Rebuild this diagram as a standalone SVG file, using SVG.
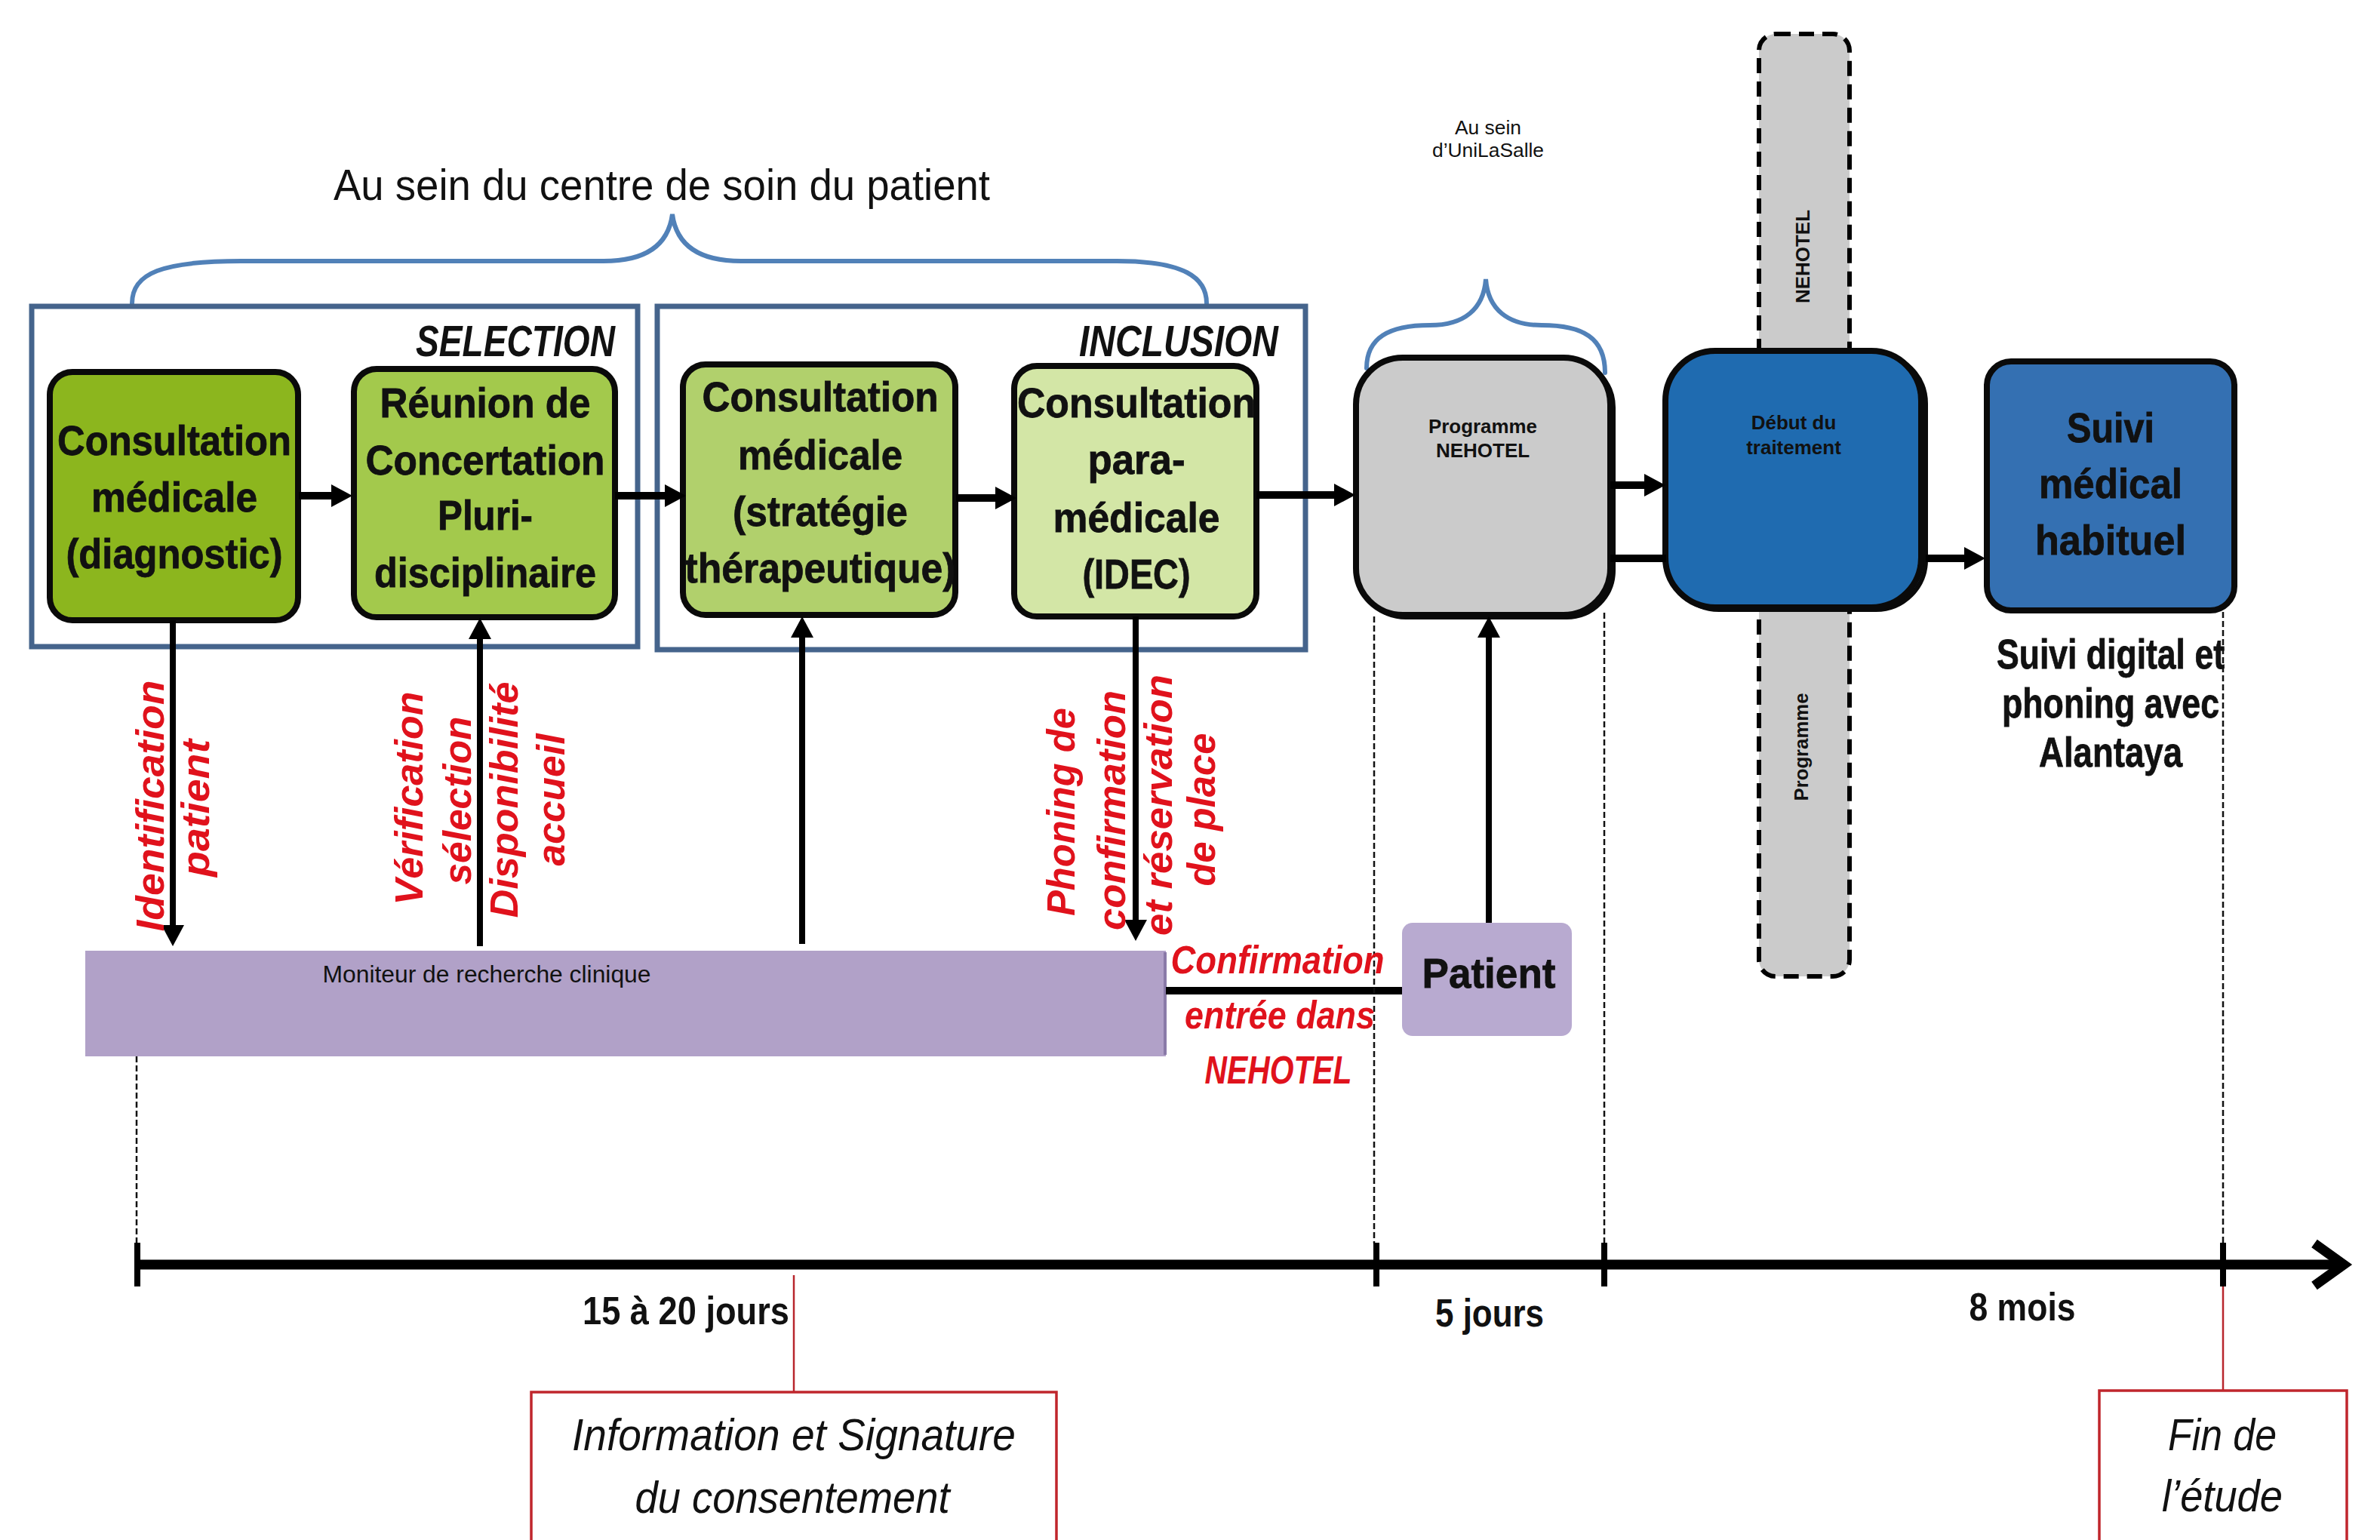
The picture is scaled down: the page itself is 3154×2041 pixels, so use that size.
<svg xmlns="http://www.w3.org/2000/svg" width="3154" height="2041" viewBox="0 0 3154 2041">
<style>
text{font-family:"Liberation Sans",Arial,sans-serif}
.node{stroke:#0a0a0a;stroke-width:8}
.nt{font-weight:bold;font-size:56px;fill:#111;text-anchor:middle;stroke:#111;stroke-width:0.8}
.grp{fill:none;stroke:#45648c;stroke-width:7}
.brace{fill:none;stroke:#5181b8;stroke-width:6;stroke-linecap:round}
.hd{font-weight:bold;font-style:italic;font-size:58px;fill:#111;text-anchor:end}
.red{font-weight:bold;font-style:italic;font-size:52px;fill:#e0121c;text-anchor:middle}
.conn{stroke:#000;stroke-width:10;fill:none}
.vconn{stroke:#000;stroke-width:8;fill:none}
.dash{stroke:#111;stroke-width:2.5;stroke-dasharray:8 4;fill:none}
.small{font-size:26px;fill:#111;text-anchor:middle}
.b{font-weight:bold}
.tl{stroke:#000;stroke-width:13;fill:none}
.tick{stroke:#000;stroke-width:8}
.lbl{font-weight:bold;font-size:52px;fill:#111;text-anchor:middle}
.rbox{fill:#fff;stroke:#c0262c;stroke-width:3.5}
.rline{stroke:#b8262c;stroke-width:2.5}
.it{font-style:italic;font-size:60px;fill:#111;text-anchor:middle}
</style>
<defs>
<marker id="ah" viewBox="0 0 28 30" markerWidth="28" markerHeight="30" refX="1" refY="15" markerUnits="userSpaceOnUse" orient="auto">
<path d="M0,0 L28,15 L0,30 z" fill="#000"/>
</marker>
</defs>
<rect width="3154" height="2041" fill="#fff"/>

<g id="header">
<text x="877" y="265" font-size="58" fill="#111" text-anchor="middle" textLength="870" lengthAdjust="spacingAndGlyphs">Au sein du centre de soin du patient</text>
<path class="brace" d="M175,402 C175,362 215,346 320,346 L800,346 C860,346 886,322 891,284 C896,322 922,346 982,346 L1480,346 C1570,346 1599,368 1599,402"/>
<text class="small" x="1972" y="178" textLength="88" lengthAdjust="spacingAndGlyphs">Au sein</text>
<text class="small" x="1972" y="208" textLength="148" lengthAdjust="spacingAndGlyphs">d’UniLaSalle</text>
<path class="brace" d="M1811,488 C1811,448 1840,431 1895,431 C1940,431 1966,410 1969,370 C1972,410 1998,431 2043,431 C2098,431 2127,448 2127,494"/>
</g>

<g id="selection">
<rect class="grp" x="42" y="406" width="803" height="451"/>
<text class="hd" x="815" y="472" textLength="264" lengthAdjust="spacingAndGlyphs">SELECTION</text>
</g>
<g id="inclusion">
<rect class="grp" x="871" y="406" width="859" height="455"/>
<text class="hd" x="1694" y="472" textLength="264" lengthAdjust="spacingAndGlyphs">INCLUSION</text>
</g>

<g id="nehotel-band">
<rect x="2331" y="45" width="120" height="1249" rx="22" fill="#cbcbcb" stroke="#000" stroke-width="6" stroke-dasharray="20 11"/>
<text class="b" x="2398" y="340" font-size="26" fill="#111" text-anchor="middle" transform="rotate(-90 2398 340)" textLength="124" lengthAdjust="spacingAndGlyphs">NEHOTEL</text>
<text class="b" x="2396" y="990" font-size="26" fill="#111" text-anchor="middle" transform="rotate(-90 2396 990)" textLength="143" lengthAdjust="spacingAndGlyphs">Programme</text>
</g>

<g id="n1">
<rect class="node" x="66" y="493" width="329" height="329" rx="30" fill="#8cb61e"/>
<text class="nt" x="231" y="603" textLength="310" lengthAdjust="spacingAndGlyphs">Consultation</text>
<text class="nt" x="231" y="678" textLength="220" lengthAdjust="spacingAndGlyphs">médicale</text>
<text class="nt" x="231" y="753" textLength="287" lengthAdjust="spacingAndGlyphs">(diagnostic)</text>
</g>
<g id="n2">
<rect class="node" x="469" y="489" width="346" height="329" rx="30" fill="#a3c94c"/>
<text class="nt" x="643" y="553" textLength="279" lengthAdjust="spacingAndGlyphs">Réunion de</text>
<text class="nt" x="643" y="629" textLength="317" lengthAdjust="spacingAndGlyphs">Concertation</text>
<text class="nt" x="643" y="702" textLength="126" lengthAdjust="spacingAndGlyphs">Pluri-</text>
<text class="nt" x="643" y="778" textLength="294" lengthAdjust="spacingAndGlyphs">disciplinaire</text>
</g>
<g id="n3">
<rect class="node" x="905" y="483" width="361" height="332" rx="30" fill="#b1d06c"/>
<text class="nt" x="1087" y="545" textLength="313" lengthAdjust="spacingAndGlyphs">Consultation</text>
<text class="nt" x="1087" y="622" textLength="218" lengthAdjust="spacingAndGlyphs">médicale</text>
<text class="nt" x="1087" y="697" textLength="232" lengthAdjust="spacingAndGlyphs">(stratégie</text>
<text class="nt" x="1087" y="772" textLength="359" lengthAdjust="spacingAndGlyphs">thérapeutique)</text>
</g>
<g id="n4">
<rect class="node" x="1344" y="485" width="321" height="332" rx="30" fill="#d3e6a6"/>
<text class="nt" x="1506" y="553" textLength="316" lengthAdjust="spacingAndGlyphs">Consultation</text>
<text class="nt" x="1506" y="628" textLength="129" lengthAdjust="spacingAndGlyphs">para-</text>
<text class="nt" x="1506" y="705" textLength="221" lengthAdjust="spacingAndGlyphs">médicale</text>
<text class="nt" x="1506" y="780" textLength="143" lengthAdjust="spacingAndGlyphs">(IDEC)</text>
</g>

<g id="programme">
<rect x="1801" y="478" width="337" height="340" rx="62" fill="#8fa8c8" stroke="#0a0a0a" stroke-width="6"/>
<rect class="node" x="1797" y="474" width="337" height="341" rx="62" fill="#cbcbcb"/>
<text class="small b" x="1965" y="574" textLength="144" lengthAdjust="spacingAndGlyphs">Programme</text>
<text class="small b" x="1965" y="606">NEHOTEL</text>
</g>
<g id="debut">
<rect x="2212" y="469" width="340" height="339" rx="66" fill="#5a8fcc" stroke="#0a0a0a" stroke-width="6"/>
<rect class="node" x="2207" y="465" width="339" height="340" rx="66" fill="#1f6bb0"/>
<text class="small b" x="2377" y="569">Début du</text>
<text class="small b" x="2377" y="602">traitement</text>
</g>
<g id="suivi">
<rect class="node" x="2633" y="479" width="328" height="330" rx="32" fill="#3470b2"/>
<text class="nt" x="2797" y="586" font-size="60" fill="#0f1728" stroke="#0f1728" textLength="116" lengthAdjust="spacingAndGlyphs">Suivi</text>
<text class="nt" x="2797" y="660" font-size="60" fill="#0f1728" stroke="#0f1728" textLength="190" lengthAdjust="spacingAndGlyphs">médical</text>
<text class="nt" x="2797" y="735" font-size="60" fill="#0f1728" stroke="#0f1728" textLength="200" lengthAdjust="spacingAndGlyphs">habituel</text>
</g>
<g id="suivi-digital">
<text class="nt" x="2797" y="886" font-size="48" textLength="302" lengthAdjust="spacingAndGlyphs">Suivi digital et</text>
<text class="nt" x="2797" y="951" font-size="48" textLength="288" lengthAdjust="spacingAndGlyphs">phoning avec</text>
<text class="nt" x="2797" y="1016" font-size="48" textLength="190" lengthAdjust="spacingAndGlyphs">Alantaya</text>
</g>

<g id="moniteur">
<rect x="113" y="1260" width="1432" height="140" fill="#b1a1c8"/>
<line x1="1544" y1="1262" x2="1544" y2="1398" stroke="#8a7aa8" stroke-width="4"/>
<text x="645" y="1302" font-size="31" fill="#111" text-anchor="middle" textLength="435" lengthAdjust="spacingAndGlyphs">Moniteur de recherche clinique</text>
</g>
<g id="patient">
<rect x="1858" y="1223" width="225" height="150" rx="14" fill="#b8aad0"/>
<text class="nt" x="1973" y="1309" font-size="60" textLength="177" lengthAdjust="spacingAndGlyphs">Patient</text>
</g>

<g id="connectors">
<line class="conn" x1="396" y1="657" x2="440" y2="657" marker-end="url(#ah)"/>
<line class="conn" x1="815" y1="657" x2="882" y2="657" marker-end="url(#ah)"/>
<line class="conn" x1="1267" y1="660" x2="1320" y2="660" marker-end="url(#ah)"/>
<line class="conn" x1="1665" y1="656" x2="1769" y2="656" marker-end="url(#ah)"/>
<line class="conn" x1="2134" y1="643" x2="2180" y2="643" marker-end="url(#ah)"/>
<line class="conn" x1="2134" y1="740" x2="2208" y2="740"/>
<line class="conn" x1="2552" y1="740" x2="2604" y2="740" marker-end="url(#ah)"/>
<line class="vconn" x1="229" y1="822" x2="229" y2="1227" marker-end="url(#ah)"/>
<line class="vconn" x1="636" y1="1254" x2="636" y2="846" marker-end="url(#ah)"/>
<line class="vconn" x1="1063" y1="1251" x2="1063" y2="844" marker-end="url(#ah)"/>
<line class="vconn" x1="1505" y1="817" x2="1505" y2="1220" marker-end="url(#ah)"/>
<line class="vconn" x1="1973" y1="1223" x2="1973" y2="844" marker-end="url(#ah)"/>
<line class="conn" x1="1545" y1="1313" x2="1858" y2="1313"/>
<line class="dash" x1="181" y1="1400" x2="181" y2="1648"/>
<line class="dash" x1="1821" y1="817" x2="1821" y2="1648"/>
<line class="dash" x1="2126" y1="812" x2="2126" y2="1648"/>
<line class="dash" x1="2946" y1="811" x2="2946" y2="1648"/>
<line class="rline" x1="1052" y1="1690" x2="1052" y2="1845"/>
<line class="rline" x1="2946" y1="1705" x2="2946" y2="1843"/>
</g>

<g id="labels">
<text class="red" x="217" y="1068" transform="rotate(-90 217 1068)" textLength="333" lengthAdjust="spacingAndGlyphs">Identification</text>
<text class="red" x="277" y="1071" transform="rotate(-90 277 1071)" textLength="182" lengthAdjust="spacingAndGlyphs">patient</text>
<text class="red" x="560" y="1058" transform="rotate(-90 560 1058)" textLength="283" lengthAdjust="spacingAndGlyphs">Vérification</text>
<text class="red" x="624" y="1061" transform="rotate(-90 624 1061)" textLength="223" lengthAdjust="spacingAndGlyphs">sélection</text>
<text class="red" x="686" y="1060" transform="rotate(-90 686 1060)" textLength="313" lengthAdjust="spacingAndGlyphs">Disponibilité</text>
<text class="red" x="748" y="1060" transform="rotate(-90 748 1060)" textLength="175" lengthAdjust="spacingAndGlyphs">accueil</text>
<text class="red" x="1424" y="1076" transform="rotate(-90 1424 1076)" textLength="276" lengthAdjust="spacingAndGlyphs">Phoning de</text>
<text class="red" x="1491" y="1074" transform="rotate(-90 1491 1074)" textLength="318" lengthAdjust="spacingAndGlyphs">confirmation</text>
<text class="red" x="1553" y="1067" transform="rotate(-90 1553 1067)" textLength="346" lengthAdjust="spacingAndGlyphs">et réservation</text>
<text class="red" x="1610" y="1073" transform="rotate(-90 1610 1073)" textLength="203" lengthAdjust="spacingAndGlyphs">de place</text>
<text class="red" x="1693" y="1290" font-size="48" textLength="283" lengthAdjust="spacingAndGlyphs">Confirmation</text>
<text class="red" x="1696" y="1363" font-size="48" textLength="252" lengthAdjust="spacingAndGlyphs">entrée dans</text>
<text class="red" x="1694" y="1436" font-size="48" textLength="195" lengthAdjust="spacingAndGlyphs">NEHOTEL</text>
</g>

<g id="timeline">
<line class="tl" x1="182" y1="1676" x2="3104" y2="1676"/>
<polyline class="tl" points="3067,1648 3106,1676 3067,1704" stroke-linejoin="miter"/>
<line class="tick" x1="182" y1="1647" x2="182" y2="1705"/>
<line class="tick" x1="1824" y1="1647" x2="1824" y2="1705"/>
<line class="tick" x1="2126" y1="1647" x2="2126" y2="1705"/>
<line class="tick" x1="2946" y1="1647" x2="2946" y2="1705"/>
<text class="lbl" x="909" y="1755" textLength="274" lengthAdjust="spacingAndGlyphs">15 à 20 jours</text>
<text class="lbl" x="1974" y="1758" textLength="144" lengthAdjust="spacingAndGlyphs">5 jours</text>
<text class="lbl" x="2680" y="1750" textLength="141" lengthAdjust="spacingAndGlyphs">8 mois</text>
</g>

<g id="consentement">
<rect class="rbox" x="704" y="1845" width="696" height="230"/>
<text class="it" x="1052" y="1922" textLength="588" lengthAdjust="spacingAndGlyphs">Information et Signature</text>
<text class="it" x="1050" y="2005" textLength="417" lengthAdjust="spacingAndGlyphs">du consentement</text>
</g>
<g id="fin">
<rect class="rbox" x="2782" y="1843" width="328" height="230"/>
<text class="it" x="2945" y="1922" textLength="144" lengthAdjust="spacingAndGlyphs">Fin de</text>
<text class="it" x="2945" y="2003" textLength="160" lengthAdjust="spacingAndGlyphs">l’étude</text>
</g>
</svg>
